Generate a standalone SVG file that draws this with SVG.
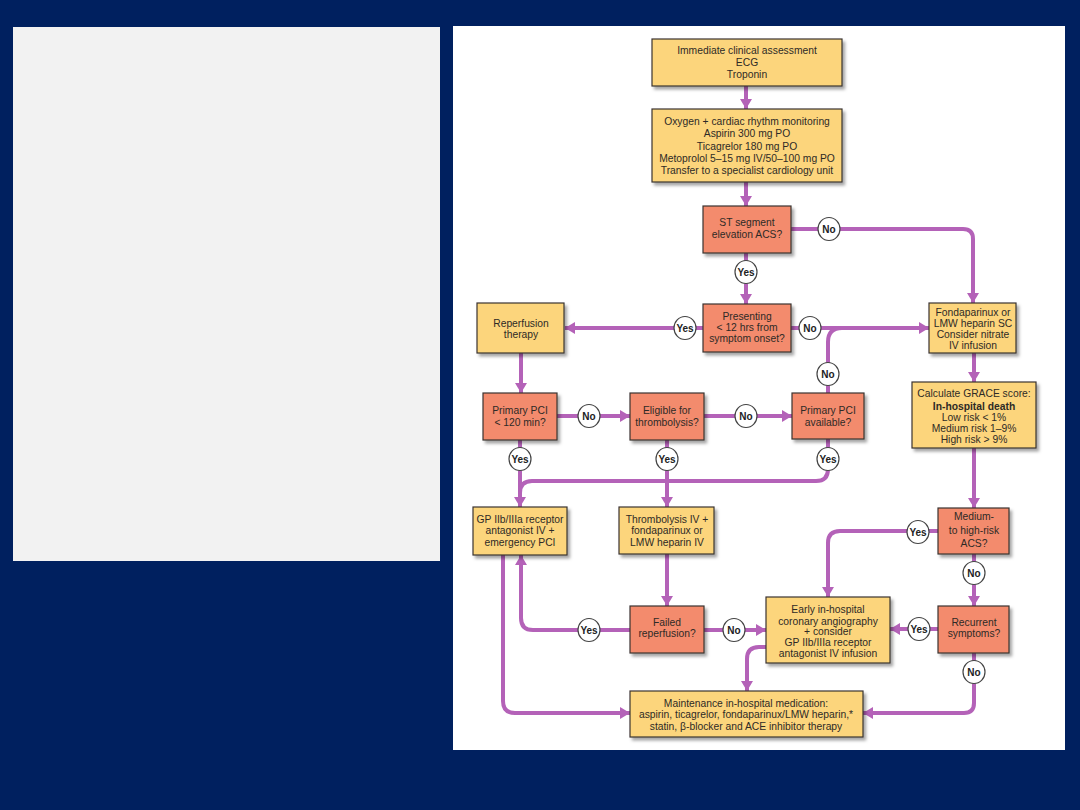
<svg xmlns="http://www.w3.org/2000/svg" width="1080" height="810" viewBox="0 0 1080 810">
<defs>
<style>
.bx{stroke:#3a3530;stroke-width:1.2;filter:url(#sh)}
.y{fill:#fcd57c}
.s{fill:#f38b6d}
text{font-family:"Liberation Sans",Arial,sans-serif;font-size:10.3px;fill:#2e2a26;text-anchor:middle}
.b{font-weight:bold}
.c path{fill:none;stroke:#b462b8;stroke-width:4}
.c path.a{marker-end:url(#ah)}
.lb ellipse{fill:#fff;stroke:#444;stroke-width:1.2}
.lb text{font-weight:bold;font-size:10px;fill:#222}
</style>
<filter id="sh" x="-10%" y="-10%" width="130%" height="140%">
<feDropShadow dx="2.5" dy="3" stdDeviation="1.5" flood-color="#000" flood-opacity="0.35"/>
</filter>
<marker id="ah" markerUnits="userSpaceOnUse" markerWidth="14" markerHeight="14" refX="10" refY="6" orient="auto">
<path d="M0 0 L10 6 L0 12 Z" fill="#b462b8"/>
</marker>
</defs>
<rect width="1080" height="810" fill="#00205f"/>
<rect x="13" y="27" width="427" height="534" fill="#f2f2f2"/>
<rect x="453" y="26" width="612" height="724" fill="#ffffff"/>

<g class="c" id="connectors">
<path class="a" d="M746 86 V109"/>
<path class="a" d="M746 182 V206"/>
<path class="a" d="M791 229 H963 Q973 229 973 239 V303"/>
<path class="a" d="M746 253 V304"/>
<path class="a" d="M703 328 H565"/>
<path class="a" d="M791 328 H929"/>
<path d="M842 328 Q828 328 828 342 V393"/>
<path class="a" d="M521 353 V393"/>
<path class="a" d="M557 416 H630"/>
<path class="a" d="M704 416 H792"/>
<path class="a" d="M520 440 V507"/>
<path class="a" d="M667 440 V507"/>
<path d="M828 439 V469 Q828 481 816 481 H532 Q520 481 520 493"/>
<path class="a" d="M974 353 V382"/>
<path class="a" d="M974 448 V508"/>
<path class="a" d="M938 531 H840 Q828 531 828 543 V597"/>
<path class="a" d="M974 554 V606"/>
<path class="a" d="M938 629 H890"/>
<path class="a" d="M974 653 V703 Q974 713 964 713 H863"/>
<path class="a" d="M667 554 V606"/>
<path class="a" d="M630 630 H533 Q521 630 521 618 V555"/>
<path class="a" d="M704 630 H766"/>
<path class="a" d="M503 555 V701 Q503 713 515 713 H630"/>
<path class="a" d="M766 647 H759 Q747 647 747 659 V691"/>
</g>

<g id="n-assess"><rect class="bx y" x="652" y="39" width="190" height="47"/>
<text x="747" y="54">Immediate clinical assessment</text><text x="747" y="66">ECG</text><text x="747" y="78">Troponin</text></g>

<g id="n-oxygen"><rect class="bx y" x="652" y="109" width="190" height="73"/>
<text x="747" y="125">Oxygen + cardiac rhythm monitoring</text><text x="747" y="137">Aspirin 300 mg PO</text><text x="747" y="150">Ticagrelor 180 mg PO</text><text x="747" y="162">Metoprolol 5–15 mg IV/50–100 mg PO</text><text x="747" y="174">Transfer to a specialist cardiology unit</text></g>

<g id="n-st"><rect class="bx s" x="703" y="206" width="88" height="47"/>
<text x="747" y="226">ST segment</text><text x="747" y="238">elevation ACS?</text></g>

<g id="n-present"><rect class="bx s" x="703" y="304" width="88" height="48"/>
<text x="747" y="320">Presenting</text><text x="747" y="331">&lt; 12 hrs from</text><text x="747" y="342">symptom onset?</text></g>

<g id="n-reperf"><rect class="bx y" x="477" y="303" width="87" height="50"/>
<text x="521" y="327">Reperfusion</text><text x="521" y="338">therapy</text></g>

<g id="n-fonda"><rect class="bx y" x="929" y="303" width="87" height="50"/>
<text x="973" y="316">Fondaparinux or</text><text x="973" y="327">LMW heparin SC</text><text x="973" y="338">Consider nitrate</text><text x="973" y="349">IV infusion</text></g>

<g id="n-pci120"><rect class="bx s" x="483" y="393" width="74" height="47"/>
<text x="520" y="414">Primary PCI</text><text x="520" y="426">&lt; 120 min?</text></g>

<g id="n-eligible"><rect class="bx s" x="630" y="393" width="74" height="47"/>
<text x="667" y="414">Eligible for</text><text x="667" y="426">thrombolysis?</text></g>

<g id="n-avail"><rect class="bx s" x="792" y="393" width="72" height="46"/>
<text x="828" y="414">Primary PCI</text><text x="828" y="426">available?</text></g>

<g id="n-grace"><rect class="bx y" x="912" y="382" width="124" height="66"/>
<text x="974" y="397">Calculate GRACE score:</text><text class="b" x="974" y="410">In-hospital death</text><text x="974" y="421">Low risk &lt; 1%</text><text x="974" y="432">Medium risk 1–9%</text><text x="974" y="443">High risk &gt; 9%</text></g>

<g id="n-medium"><rect class="bx s" x="938" y="508" width="71" height="46"/>
<text x="974" y="520">Medium-</text><text x="974" y="534">to high-risk</text><text x="974" y="547">ACS?</text></g>

<g id="n-gp"><rect class="bx y" x="473" y="507" width="94" height="48"/>
<text x="520" y="523">GP IIb/IIIa receptor</text><text x="520" y="534">antagonist IV +</text><text x="520" y="546">emergency PCI</text></g>

<g id="n-thromb"><rect class="bx y" x="619" y="507" width="95" height="47"/>
<text x="667" y="523">Thrombolysis IV +</text><text x="667" y="534">fondaparinux or</text><text x="667" y="546">LMW heparin IV</text></g>

<g id="n-failed"><rect class="bx s" x="630" y="606" width="74" height="47"/>
<text x="667" y="626">Failed</text><text x="667" y="637">reperfusion?</text></g>

<g id="n-early"><rect class="bx y" x="766" y="597" width="124" height="66"/>
<text x="828" y="613">Early in-hospital</text><text x="828" y="625">coronary angiography</text><text x="828" y="635">+ consider</text><text x="828" y="646">GP IIb/IIIa receptor</text><text x="828" y="657">antagonist IV infusion</text></g>

<g id="n-recur"><rect class="bx s" x="938" y="606" width="71" height="47"/>
<text x="974" y="626">Recurrent</text><text x="974" y="637">symptoms?</text></g>

<g id="n-maint"><rect class="bx y" x="630" y="691" width="233" height="46"/>
<text x="746" y="707">Maintenance in-hospital medication:</text><text x="746" y="718">aspirin, ticagrelor, fondaparinux/LMW heparin,*</text><text x="746" y="730">statin, β-blocker and ACE inhibitor therapy</text></g>

<g class="lb" id="labels">
<ellipse cx="829" cy="229" rx="11" ry="11.5"/><text x="829" y="233">No</text>
<ellipse cx="746" cy="272" rx="11" ry="11.5"/><text x="746" y="276">Yes</text>
<ellipse cx="685" cy="328" rx="11" ry="11.5"/><text x="685" y="332">Yes</text>
<ellipse cx="810" cy="328" rx="11" ry="11.5"/><text x="810" y="332">No</text>
<ellipse cx="828" cy="374" rx="11" ry="11.5"/><text x="828" y="378">No</text>
<ellipse cx="589" cy="416" rx="11" ry="11.5"/><text x="589" y="420">No</text>
<ellipse cx="746" cy="416" rx="11" ry="11.5"/><text x="746" y="420">No</text>
<ellipse cx="520" cy="459" rx="11" ry="11.5"/><text x="520" y="463">Yes</text>
<ellipse cx="667" cy="459" rx="11" ry="11.5"/><text x="667" y="463">Yes</text>
<ellipse cx="828" cy="459" rx="11" ry="11.5"/><text x="828" y="463">Yes</text>
<ellipse cx="918" cy="532" rx="11" ry="11.5"/><text x="918" y="536">Yes</text>
<ellipse cx="974" cy="573" rx="11" ry="11.5"/><text x="974" y="577">No</text>
<ellipse cx="589" cy="630" rx="11" ry="11.5"/><text x="589" y="634">Yes</text>
<ellipse cx="734" cy="630" rx="11" ry="11.5"/><text x="734" y="634">No</text>
<ellipse cx="919" cy="629" rx="11" ry="11.5"/><text x="919" y="633">Yes</text>
<ellipse cx="974" cy="672" rx="11" ry="11.5"/><text x="974" y="676">No</text>
</g>
</svg>
